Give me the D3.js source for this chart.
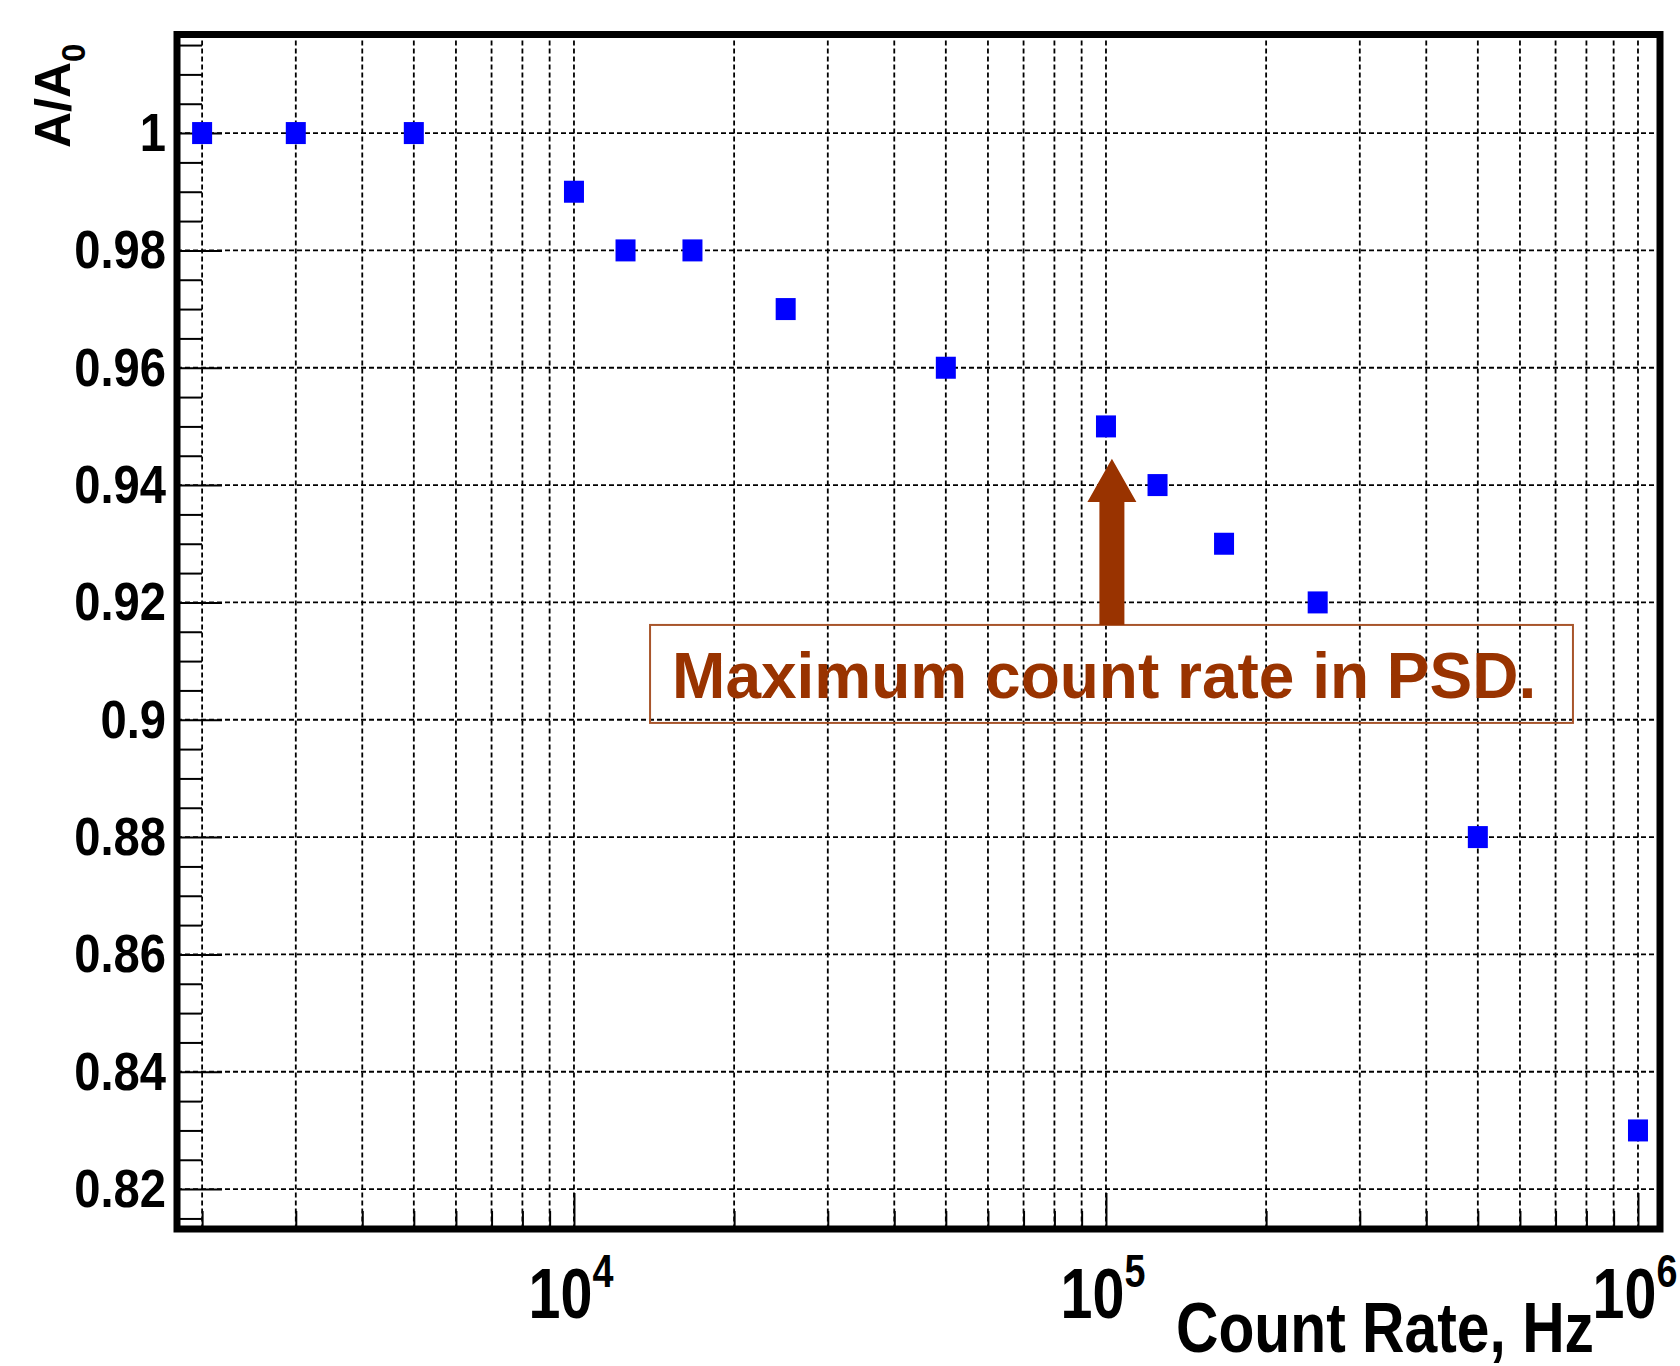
<!DOCTYPE html>
<html>
<head>
<meta charset="utf-8">
<script src="https://cdn.jsdelivr.net/npm/d3@7"></script>
<style>
  body { margin: 0; background: #fff; }
  text { font-family: "Liberation Sans", Arial, sans-serif; font-weight: bold; }
</style>
</head>
<body>
<div id="chart"></div>
<script>
// count rate (Hz) and relative amplitude A/A0
const rates  = [2000, 3000, 5000, 10000, 12500, 16700, 25000, 50000, 100000, 125000, 166700, 250000, 500000, 1000000];
const ratios = [1.00, 1.00, 1.00, 0.99, 0.98, 0.98, 0.97, 0.96, 0.95, 0.94, 0.93, 0.92, 0.88, 0.83];

const yTicks      = [0.82, 0.84, 0.86, 0.88, 0.90, 0.92, 0.94, 0.96, 0.98, 1.00];
const yTickLabels = ["0.82", "0.84", "0.86", "0.88", "0.9", "0.92", "0.94", "0.96", "0.98", "1"];
const xDecades    = [1e4, 1e5, 1e6];
const xDecadeExp  = ["4", "5", "6"];

const annotation = "Maximum count rate in PSD.";

const margin = {top: 34.5, right: 20, bottom: 137, left: 177};
const width = 1680 - margin.left - margin.right;
const height = 1366 - margin.top - margin.bottom;

const data = rates.map((r, i) => ({rate: r, ratio: ratios[i]}));

const svg = d3.select("#chart")
  .append("svg")
  .attr("width", 1680)
  .attr("height", 1366)
  .append("g")
  .attr("transform", `translate(${margin.left}, ${margin.top})`);

const x = d3.scaleLog()
  .domain([1794, 1.1e6])
  .range([0, width]);

const y = d3.scaleLinear()
  .domain([0.8132, 1.0168])
  .range([height, 0]);

// minor positions: 2..9 x 10^k inside the domain
const xMinor = [];
[1e3, 1e4, 1e5].forEach(d => {
  for (let m = 2; m <= 9; m++) {
    const v = d * m;
    if (v > x.domain()[0] && v < x.domain()[1]) xMinor.push(v);
  }
});
const yMinor = d3.range(0.815, 1.0166, 0.005)
  .filter(v => Math.abs(Math.round(v * 50) - v * 50) > 1e-6);

// grid
const grid = svg.append("g")
  .attr("stroke", "#000")
  .attr("stroke-width", 1.8)
  .attr("stroke-dasharray", "5,3");

grid.selectAll(".vg")
  .data(xMinor.concat(xDecades.filter(d => d < x.domain()[1])))
  .join("line")
    .attr("x1", d => x(d)).attr("x2", d => x(d))
    .attr("y1", 6).attr("y2", height);

grid.selectAll(".hg")
  .data(yTicks)
  .join("line")
    .attr("x1", 0).attr("x2", width - 4)
    .attr("y1", d => y(d)).attr("y2", d => y(d));

// axes (ticks point into the frame)
function styleAxis(g) {
  g.select(".domain").remove();
  g.selectAll(".tick line").attr("stroke", "#000").attr("stroke-width", 2);
}

svg.append("g")
  .attr("transform", `translate(0, ${height})`)
  .call(d3.axisBottom(x).tickValues(xMinor).tickSize(-18).tickFormat(""))
  .call(styleAxis);

svg.append("g")
  .attr("transform", `translate(0, ${height})`)
  .call(d3.axisBottom(x).tickValues(xDecades).tickSize(-36).tickFormat(""))
  .call(styleAxis);

svg.append("g")
  .call(d3.axisLeft(y).tickValues(yMinor).tickSize(-25).tickFormat(""))
  .call(styleAxis);

svg.append("g")
  .call(d3.axisLeft(y).tickValues(yTicks).tickSize(-45).tickFormat((d, i) => yTickLabels[i]))
  .call(styleAxis)
  .call(g => g.selectAll(".tick text")
    .attr("x", 0)
    .attr("dy", "0.33em")
    .attr("fill", "#000")
    .style("font-size", "53px")
    .attr("transform", "translate(-11, 0) scale(0.89, 1)"));

// decade labels 10^n
const xl = svg.append("g").selectAll("text")
  .data(xDecades)
  .join("text")
    .attr("text-anchor", "middle")
    .attr("transform", d => `translate(${x(d) - 3}, ${1318 - margin.top}) scale(0.82, 1)`)
    .style("font-size", "70px");
xl.append("tspan").text("10");
xl.append("tspan").attr("dy", -31).style("font-size", "46px").text((d, i) => xDecadeExp[i]);

// axis titles
svg.append("text")
  .attr("text-anchor", "end")
  .attr("transform", `translate(${1594 - margin.left}, ${1352 - margin.top}) scale(0.84, 1)`)
  .style("font-size", "70px")
  .text("Count Rate, Hz");

const yt = svg.append("text")
  .attr("transform", `translate(${70 - margin.left}, ${148 - margin.top}) rotate(-90)`)
  .style("font-size", "50px");
yt.append("tspan").text("A/A");
yt.append("tspan").attr("dy", 15).style("font-size", "33px").text("0");

// markers
const ms = {w: 20, h: 22};
svg.append("g")
  .selectAll("rect")
  .data(data)
  .join("rect")
    .attr("x", d => x(d.rate) - ms.w / 2)
    .attr("y", d => y(d.ratio) - ms.h / 2)
    .attr("width", ms.w)
    .attr("height", ms.h)
    .attr("fill", "#0000ff");

// annotation box, text and arrow (placed in data coordinates)
const box = {x0: 13900, x1: 754700, yTop: 0.91616, yBot: 0.89946};
svg.append("rect")
  .attr("x", x(box.x0))
  .attr("y", y(box.yTop))
  .attr("width", x(box.x1) - x(box.x0))
  .attr("height", y(box.yBot) - y(box.yTop))
  .attr("fill", "none")
  .attr("stroke", "#a8552b")
  .attr("stroke-width", 2);

svg.append("text")
  .attr("x", x(15290))
  .attr("y", y(0.90372))
  .attr("fill", "#993300")
  .style("font-size", "64px")
  .text(annotation);

const arrow = {rate: 1.026e5, tip: 0.9445, headBase: 0.9371, base: box.yTop};
const ax = x(arrow.rate);
const shaft = 12.5, head = 24.5;
svg.append("path")
  .attr("fill", "#993300")
  .attr("d", [
    [ax, y(arrow.tip)],
    [ax + head, y(arrow.headBase)],
    [ax + shaft, y(arrow.headBase)],
    [ax + shaft, y(arrow.base)],
    [ax - shaft, y(arrow.base)],
    [ax - shaft, y(arrow.headBase)],
    [ax - head, y(arrow.headBase)]
  ].map((p, i) => (i ? "L" : "M") + p[0] + "," + p[1]).join("") + "Z");

// frame
svg.append("rect")
  .attr("x", 0)
  .attr("y", 0)
  .attr("width", width)
  .attr("height", height)
  .attr("fill", "none")
  .attr("stroke", "#000")
  .attr("stroke-width", 7);
</script>
</body>
</html>
